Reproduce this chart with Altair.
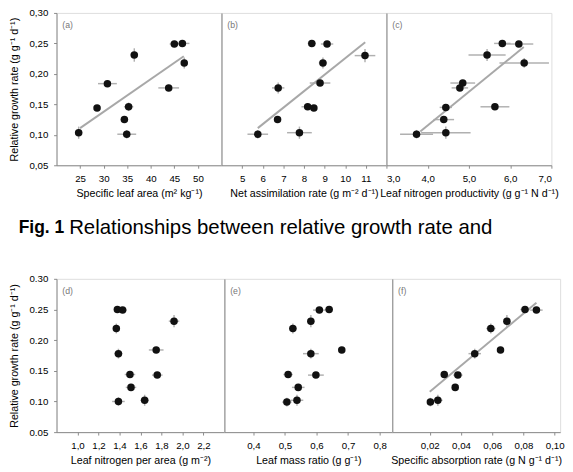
import altair as alt
import pandas as pd

# ---------------- data ----------------
# Panel (a): specific leaf area
A_X = [24.7, 28.6, 30.8, 36.5, 34.4, 35.3, 34.9, 43.8, 45.0, 46.7, 47.1]
A_Y = [0.1035, 0.144, 0.184, 0.231, 0.125, 0.146, 0.101, 0.177, 0.249, 0.250, 0.218]
A_XE = [0.8, 0.5, 2.0, 0.8, 0.8, 1.0, 2.0, 2.2, 1.0, 1.5, 0.5]
A_YE = [0.010, 0.004, 0.005, 0.011, 0.004, 0.007, 0.007, 0.005, 0.005, 0.004, 0.009]
A_LX = [25.0, 47.0]
A_LY = [0.111, 0.229]

# Panel (b): net assimilation rate
B_X = [5.76, 6.72, 6.75, 7.78, 8.18, 8.48, 8.38, 9.12, 8.92, 8.78, 10.96]
B_Y = [0.101, 0.125, 0.177, 0.1035, 0.146, 0.144, 0.250, 0.249, 0.218, 0.185, 0.230]
B_XE = [0.5, 0.15, 0.3, 0.6, 0.3, 0.15, 0.2, 0.3, 0.2, 0.5, 0.5]
B_YE = [0.007, 0.004, 0.009, 0.010, 0.004, 0.004, 0.004, 0.005, 0.009, 0.005, 0.011]
B_LX = [5.76, 10.97]
B_LY = [0.111, 0.252]

# Panel (c): leaf nitrogen productivity
C_X = [3.73, 4.44, 4.39, 4.44, 4.78, 4.85, 5.44, 5.63, 5.81, 6.21, 6.34]
C_Y = [0.101, 0.1035, 0.125, 0.145, 0.177, 0.185, 0.231, 0.146, 0.250, 0.249, 0.218]
C_XE = [0.4, 0.6, 0.25, 0.15, 0.2, 0.3, 0.45, 0.35, 0.2, 0.35, 0.6]
C_YE = [0.007, 0.010, 0.004, 0.005, 0.005, 0.005, 0.010, 0.004, 0.004, 0.004, 0.008]
C_LX = [3.82, 6.33]
C_LY = [0.1055, 0.244]

# Panel (d): leaf nitrogen per area
D_X = [1.39, 1.64, 1.51, 1.50, 1.76, 1.39, 1.75, 1.37, 1.92, 1.38, 1.43]
D_Y = [0.100, 0.102, 0.123, 0.144, 0.143, 0.178, 0.184, 0.219, 0.231, 0.250, 0.249]
D_XE = [0.06, 0.04, 0.05, 0.05, 0.05, 0.04, 0.07, 0.03, 0.05, 0.03, 0.04]
D_YE = [0.007, 0.009, 0.004, 0.005, 0.004, 0.008, 0.005, 0.008, 0.010, 0.004, 0.004]

# Panel (e): leaf mass ratio
E_X = [0.506, 0.538, 0.542, 0.510, 0.598, 0.582, 0.680, 0.525, 0.582, 0.609, 0.640]
E_Y = [0.099, 0.102, 0.123, 0.144, 0.143, 0.178, 0.184, 0.219, 0.231, 0.249, 0.250]
E_XE = [0.015, 0.02, 0.02, 0.015, 0.025, 0.025, 0.01, 0.012, 0.012, 0.02, 0.012]
E_YE = [0.007, 0.009, 0.004, 0.005, 0.004, 0.008, 0.005, 0.008, 0.010, 0.004, 0.004]

# Panel (f): specific absorption rate
F_X = [0.0204, 0.0252, 0.0363, 0.0293, 0.0380, 0.0488, 0.0653, 0.0591, 0.0694, 0.0810, 0.0883]
F_Y = [0.099, 0.102, 0.123, 0.144, 0.143, 0.178, 0.184, 0.219, 0.231, 0.250, 0.249]
F_XE = [0.002, 0.003, 0.002, 0.002, 0.003, 0.004, 0.002, 0.003, 0.002, 0.003, 0.004]
F_YE = [0.007, 0.009, 0.004, 0.005, 0.004, 0.008, 0.005, 0.008, 0.010, 0.004, 0.004]
F_LX = [0.020, 0.0883]
F_LY = [0.116, 0.261]

Y_TICKS = [0.05, 0.10, 0.15, 0.20, 0.25, 0.30]
Y_TITLE = "Relative growth rate (g g\u207b\u00b9 d\u207b\u00b9)"
CAPTION_BOLD = "Fig. 1"
CAPTION_TEXT = "Relationships between relative growth rate and"

FONT = "Liberation Sans"
GREY_PT = "#111111"
ERR_COL = "#b0b0b0"
LINE_COL = "#a8a8a8"


def comma(fmt):
    return f"replace(format(datum.value, '{fmt}'), '.', ',')"


def panel(xs, ys, xe, ye, lx, ly, dom, ticks, xfmt, xtitle, tag,
          yaxis, w, h):
    df = pd.DataFrame({"x": xs, "y": ys, "xlo": [a - b for a, b in zip(xs, xe)],
                       "xhi": [a + b for a, b in zip(xs, xe)],
                       "ylo": [a - b for a, b in zip(ys, ye)],
                       "yhi": [a + b for a, b in zip(ys, ye)]})
    xsc = alt.Scale(domain=dom, nice=False, zero=False)
    ysc = alt.Scale(domain=[0.05, 0.30], nice=False, zero=False)
    xax = alt.Axis(values=ticks, tickCount=30, labelExpr=xfmt, title=xtitle, grid=False,
                   tickSize=3, labelPadding=6, titlePadding=4,
                   labelOverlap=False, titleFontWeight="normal")
    if yaxis == "top":
        yax = alt.Axis(values=Y_TICKS, tickCount=30, labelExpr=comma(".2f"), title=Y_TITLE,
                       grid=False, tickSize=3, labelPadding=6, titlePadding=10,
                       labelOverlap=False, titleFontWeight="normal")
    elif yaxis == "bottom":
        yax = alt.Axis(values=Y_TICKS, tickCount=30, format=".2f", title=Y_TITLE,
                       grid=False, tickSize=3, labelPadding=6, titlePadding=10,
                       labelOverlap=False, titleFontWeight="normal")
    else:
        yax = alt.Axis(labels=False, ticks=False, title=None, grid=False)
    base = alt.Chart(df)
    hbar = base.mark_rule(color=ERR_COL, strokeWidth=1.5).encode(
        x=alt.X("xlo:Q", scale=xsc, axis=xax), x2="xhi:Q",
        y=alt.Y("y:Q", scale=ysc, axis=yax))
    vbar = base.mark_rule(color=ERR_COL, strokeWidth=1.5).encode(
        x=alt.X("x:Q", scale=xsc), y=alt.Y("ylo:Q", scale=ysc), y2="yhi:Q")
    pts = base.mark_circle(size=60, color=GREY_PT, opacity=1).encode(
        x=alt.X("x:Q", scale=xsc), y=alt.Y("y:Q", scale=ysc))
    tagc = alt.Chart(pd.DataFrame({"t": [tag]})).mark_text(
        font=FONT, fontSize=9, color="#777", align="left", baseline="middle"
    ).encode(x=alt.value(6), y=alt.value(13), text="t:N")
    layers = [hbar, vbar]
    if lx is not None:
        ldf = pd.DataFrame({"x": lx, "y": ly})
        line = alt.Chart(ldf).mark_line(color=LINE_COL, strokeWidth=2).encode(
            x=alt.X("x:Q", scale=xsc), y=alt.Y("y:Q", scale=ysc))
        layers.append(line)
    layers += [pts, tagc]
    return alt.layer(*layers).properties(width=w, height=h)


TW, TH = 170, 157
BW, BH = 173, 158

pa = panel(A_X, A_Y, A_XE, A_YE, A_LX, A_LY, [20, 55], [25, 30, 35, 40, 45, 50],
           "format(datum.value, '.0f')", "Specific leaf area (m\u00b2 kg\u207b\u00b9)", "(a)", "top", TW, TH)
pb = panel(B_X, B_Y, B_XE, B_YE, B_LX, B_LY, [4, 12], [5, 6, 7, 8, 9, 10, 11],
           "format(datum.value, '.0f')", "Net assimilation rate (g m\u207b\u00b2 d\u207b\u00b9)", "(b)", "none", TW, TH)
pc = panel(C_X, C_Y, C_XE, C_YE, C_LX, C_LY, [3, 7], [3, 4, 5, 6, 7],
           comma(".1f"), "Leaf nitrogen productivity (g g\u207b\u00b9 N d\u207b\u00b9)", "(c)", "none", TW, TH)
pd_ = panel(D_X, D_Y, D_XE, D_YE, None, None, [0.8, 2.4], [1.0, 1.2, 1.4, 1.6, 1.8, 2.0, 2.2],
            comma(".1f"), "Leaf nitrogen per area (g m\u207b\u00b2)", "(d)", "bottom", BW, BH)
pe = panel(E_X, E_Y, E_XE, E_YE, None, None, [0.308, 0.84], [0.4, 0.5, 0.6, 0.7, 0.8],
           comma(".1f"), "Leaf mass ratio (g g\u207b\u00b9)", "(e)", "none", BW, BH)
pf = panel(F_X, F_Y, F_XE, F_YE, F_LX, F_LY, [-0.004, 0.1035], [0.02, 0.04, 0.06, 0.08, 0.10],
           comma(".2f"), "Specific absorption rate (g N g\u207b\u00b9 d\u207b\u00b9)", "(f)", "none", BW, BH)

cap_df = pd.DataFrame({"a": [CAPTION_BOLD], "b": [CAPTION_TEXT]})
cap1 = alt.Chart(cap_df).mark_text(font=FONT, fontSize=18, fontWeight="bold", color="#000",
                                   align="left", baseline="middle").encode(
    x=alt.value(-39), y=alt.value(14), text="a:N")
cap2 = alt.Chart(cap_df).mark_text(font=FONT, fontSize=21, color="#000",
                                   align="left", baseline="middle").encode(
    x=alt.value(13), y=alt.value(14), text="b:N")
caption = alt.layer(cap1, cap2).properties(width=500, height=44,
                                           view=alt.ViewBackground(strokeOpacity=0))

top = alt.hconcat(pa, pb, pc, spacing=0, bounds="flush")
bottom = alt.hconcat(pd_, pe, pf, spacing=0, bounds="flush")

chart = alt.vconcat(top, caption, bottom, spacing=16).properties(
    padding={"left": 0, "top": -8, "right": 0, "bottom": 0}
).configure_view(stroke="#9a9a9a", strokeWidth=1).configure_axis(
    labelFont=FONT, titleFont=FONT, labelFontSize=9, titleFontSize=8.5,
    labelColor="#555", titleColor="#666", titleFontWeight="normal",
    tickColor="#888", domainColor="#777"
).configure(background="white")

chart.save("out.html", embed_options={"renderer": "svg", "actions": False})
